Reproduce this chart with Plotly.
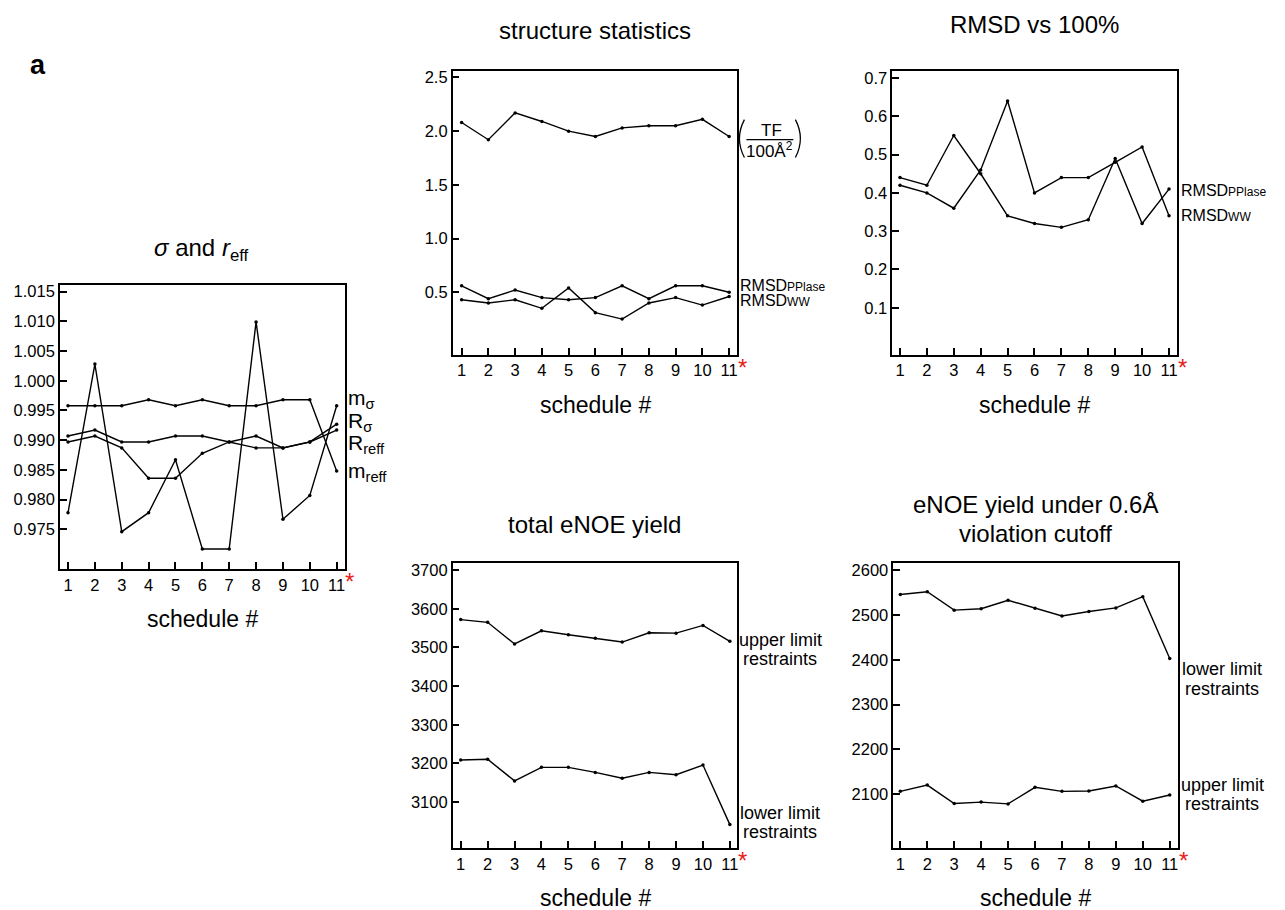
import plotly.graph_objects as go

# ---------------- data ----------------
schedule = list(range(1, 12))
tick_labels = [str(i) for i in schedule]

# panel a1: sigma and r_eff
m_sigma = [0.9958, 0.9958, 0.9958, 0.9968, 0.9958, 0.9968, 0.9958, 0.9958, 0.9968, 0.9968, 0.9848]
R_sigma = [0.9907, 0.9917, 0.9897, 0.9897, 0.9907, 0.9907, 0.9897, 0.9907, 0.9887, 0.9897, 0.9927]
R_reff = [0.9897, 0.9907, 0.9887, 0.9836, 0.9836, 0.9878, 0.9897, 0.9887, 0.9887, 0.9897, 0.9917]
m_reff = [0.9778, 1.0028, 0.9746, 0.9778, 0.9867, 0.9717, 0.9717, 1.0099, 0.9767, 0.9807, 0.9958]
sigma_ticks = [0.975, 0.980, 0.985, 0.990, 0.995, 1.000, 1.005, 1.010, 1.015]

# panel structure statistics
tf_area = [2.08, 1.92, 2.17, 2.09, 2.00, 1.95, 2.03, 2.05, 2.05, 2.11, 1.95]
rmsd_ppiase_s = [0.56, 0.44, 0.52, 0.45, 0.43, 0.45, 0.56, 0.44, 0.56, 0.56, 0.50]
rmsd_ww_s = [0.43, 0.40, 0.43, 0.35, 0.54, 0.31, 0.25, 0.40, 0.45, 0.38, 0.46]
struct_ticks = [0.5, 1.0, 1.5, 2.0, 2.5]

# panel RMSD vs 100%
rmsd_a = [0.44, 0.42, 0.55, 0.45, 0.34, 0.32, 0.31, 0.33, 0.49, 0.32, 0.41]
rmsd_b = [0.42, 0.40, 0.36, 0.46, 0.64, 0.40, 0.44, 0.44, 0.48, 0.52, 0.34]
rmsd_ticks = [0.1, 0.2, 0.3, 0.4, 0.5, 0.6, 0.7]

# panel total eNOE yield
total_upper = [3572, 3565, 3509, 3543, 3533, 3524, 3514, 3538, 3537, 3557, 3516]
total_lower = [3209, 3211, 3155, 3190, 3190, 3177, 3162, 3177, 3171, 3196, 3042]
total_ticks = [3100, 3200, 3300, 3400, 3500, 3600, 3700]

# panel eNOE yield under 0.6 A violation cutoff
cut_lower = [2546, 2552, 2511, 2514, 2533, 2515, 2498, 2508, 2516, 2541, 2403]
cut_upper = [2106, 2120, 2079, 2082, 2078, 2115, 2106, 2107, 2118, 2084, 2098]
cut_ticks = [2100, 2200, 2300, 2400, 2500, 2600]

# ---------------- layout helpers ----------------
W, H = 1285, 910
FONT = "Liberation Sans, Arial, sans-serif"


def X(px):
    return px / W


def Y(py):
    return 1 - py / H


panels = [
    dict(box=(60, 283, 345, 568), yr=[0.9683, 1.0161], xr=[0.70, 11.30], yt=sigma_ticks,
         fmt="%.3f"),
    dict(box=(453, 68, 738, 353), yr=[-0.083, 2.562], xr=[0.665, 11.31], yt=struct_ticks,
         fmt="%.1f"),
    dict(box=(893, 68, 1178, 353), yr=[-0.023, 0.719], xr=[0.715, 11.30], yt=rmsd_ticks,
         fmt="%.1f"),
    dict(box=(453, 562, 738, 848), yr=[2981, 3718], xr=[0.70, 11.28], yt=total_ticks,
         fmt="%d"),
    dict(box=(894, 562, 1179, 848), yr=[1979, 2616], xr=[0.74, 11.31], yt=cut_ticks,
         fmt="%d"),
]

series = [
    [m_sigma, R_sigma, R_reff, m_reff],
    [tf_area, rmsd_ppiase_s, rmsd_ww_s],
    [rmsd_a, rmsd_b],
    [total_upper, total_lower],
    [cut_lower, cut_upper],
]

fig = go.Figure()
layout = dict(width=W, height=H, margin=dict(l=0, r=0, t=0, b=0),
              paper_bgcolor="white", plot_bgcolor="white", showlegend=False,
              font=dict(family=FONT, color="black", size=16))

TICK = 16.5
for i, (p, ss) in enumerate(zip(panels, series)):
    n = "" if i == 0 else str(i + 1)
    l, t, r, b = p["box"]
    ax = dict(domain=[X(l), X(r)], range=p["xr"], tickmode="array", tickvals=schedule,
              ticktext=tick_labels, ticks="inside", ticklen=7, tickwidth=1.5, tickcolor="black",
              showline=True, linecolor="black", linewidth=1.5, mirror=True, showgrid=False,
              zeroline=False, tickfont=dict(size=TICK, family=FONT, color="black"),
              anchor="y" + n, fixedrange=True)
    ay = dict(domain=[Y(b), Y(t)], range=p["yr"], tickmode="array", tickvals=p["yt"],
              ticktext=[p["fmt"] % v for v in p["yt"]], ticks="inside", ticklen=7,
              tickwidth=1.5, tickcolor="black", showline=True, linecolor="black", linewidth=1.5,
              mirror=True, showgrid=False, zeroline=False,
              tickfont=dict(size=TICK, family=FONT, color="black"), anchor="x" + n,
              fixedrange=True)
    layout["xaxis" + n] = ax
    layout["yaxis" + n] = ay
    for s in ss:
        fig.add_trace(go.Scatter(x=schedule, y=s, mode="lines+markers", xaxis="x" + n,
                                 yaxis="y" + n, line=dict(color="black", width=1.4),
                                 marker=dict(color="black", size=3.5), hoverinfo="skip"))

ann = []


def text(px, py, s, size, xanchor="center", yanchor="middle", color="black"):
    ann.append(dict(x=X(px), y=Y(py), xref="paper", yref="paper", text=s, showarrow=False,
                    xanchor=xanchor, yanchor=yanchor,
                    font=dict(size=size, family=FONT, color=color)))


def small(s, size):
    return "<span style='font-size:%dpx'>%s</span>" % (size, s)


# panel letter
text(38, 62, "<b>a</b>", 27)

# titles
text(202, 247, "<i>σ</i> and <i>r</i><sub>eff</sub>", 24)
text(595, 28, "structure statistics", 24)
text(1035, 22, "RMSD vs 100%", 24)
text(595, 523, "total eNOE yield", 24)
text(1036, 503, "eNOE yield under 0.6Å", 24)
text(1036, 532, "violation cutoff", 24)

# x-axis titles and red asterisks
for p in panels:
    l, t, r, b = p["box"]
    text((l + r) / 2, b + 50, "schedule #", 23)
    text(r + 5, b - 3, "*", 24, yanchor="top", color="#e8201a")

# panel 1 labels
text(346, 397, "m<sub>σ</sub>", 21, xanchor="left")
text(346, 420, "R<sub>σ</sub>", 21, xanchor="left")
text(346, 442, "R<sub>reff</sub>", 21, xanchor="left")
text(346, 471, "m<sub>reff</sub>", 21, xanchor="left")

# panel 2 labels
text(772, 128, "TF", 17)
text(770, 147, "100Å<sup>2</sup>", 17)
text(739, 283, "RMSD" + small("PPlase", 12), 16, xanchor="left")
text(739, 298, "RMSD" + small("WW", 12), 16, xanchor="left")

# panel 3 labels
text(1180, 188, "RMSD" + small("PPlase", 12), 16, xanchor="left")
text(1180, 213, "RMSD" + small("WW", 12), 16, xanchor="left")

# panel 4 labels
text(781, 639, "upper limit", 18)
text(781, 658, "restraints", 18)
text(781, 813, "lower limit", 18)
text(781, 832, "restraints", 18)

# panel 5 labels
text(1223, 668, "lower limit", 18)
text(1223, 688, "restraints", 18)
text(1223, 785, "upper limit", 18)
text(1223, 804, "restraints", 18)

layout["annotations"] = ann


def path(pts):
    (x0, y0), (xc, yc), (x1, y1) = pts
    return "M %f,%f Q %f,%f %f,%f" % (X(x0), Y(y0), X(xc), Y(yc), X(x1), Y(y1))


layout["shapes"] = [
    dict(type="line", xref="paper", yref="paper", x0=X(747), x1=X(794),
         y0=Y(137), y1=Y(137), line=dict(color="black", width=1.2)),
    dict(type="path", xref="paper", yref="paper",
         path=path([(745, 117), (735, 136), (745, 155)]), line=dict(color="black", width=1.3)),
    dict(type="path", xref="paper", yref="paper",
         path=path([(796, 117), (806, 136), (796, 155)]), line=dict(color="black", width=1.3)),
]

fig.update_layout(**layout)
fig.write_html("out.html")
